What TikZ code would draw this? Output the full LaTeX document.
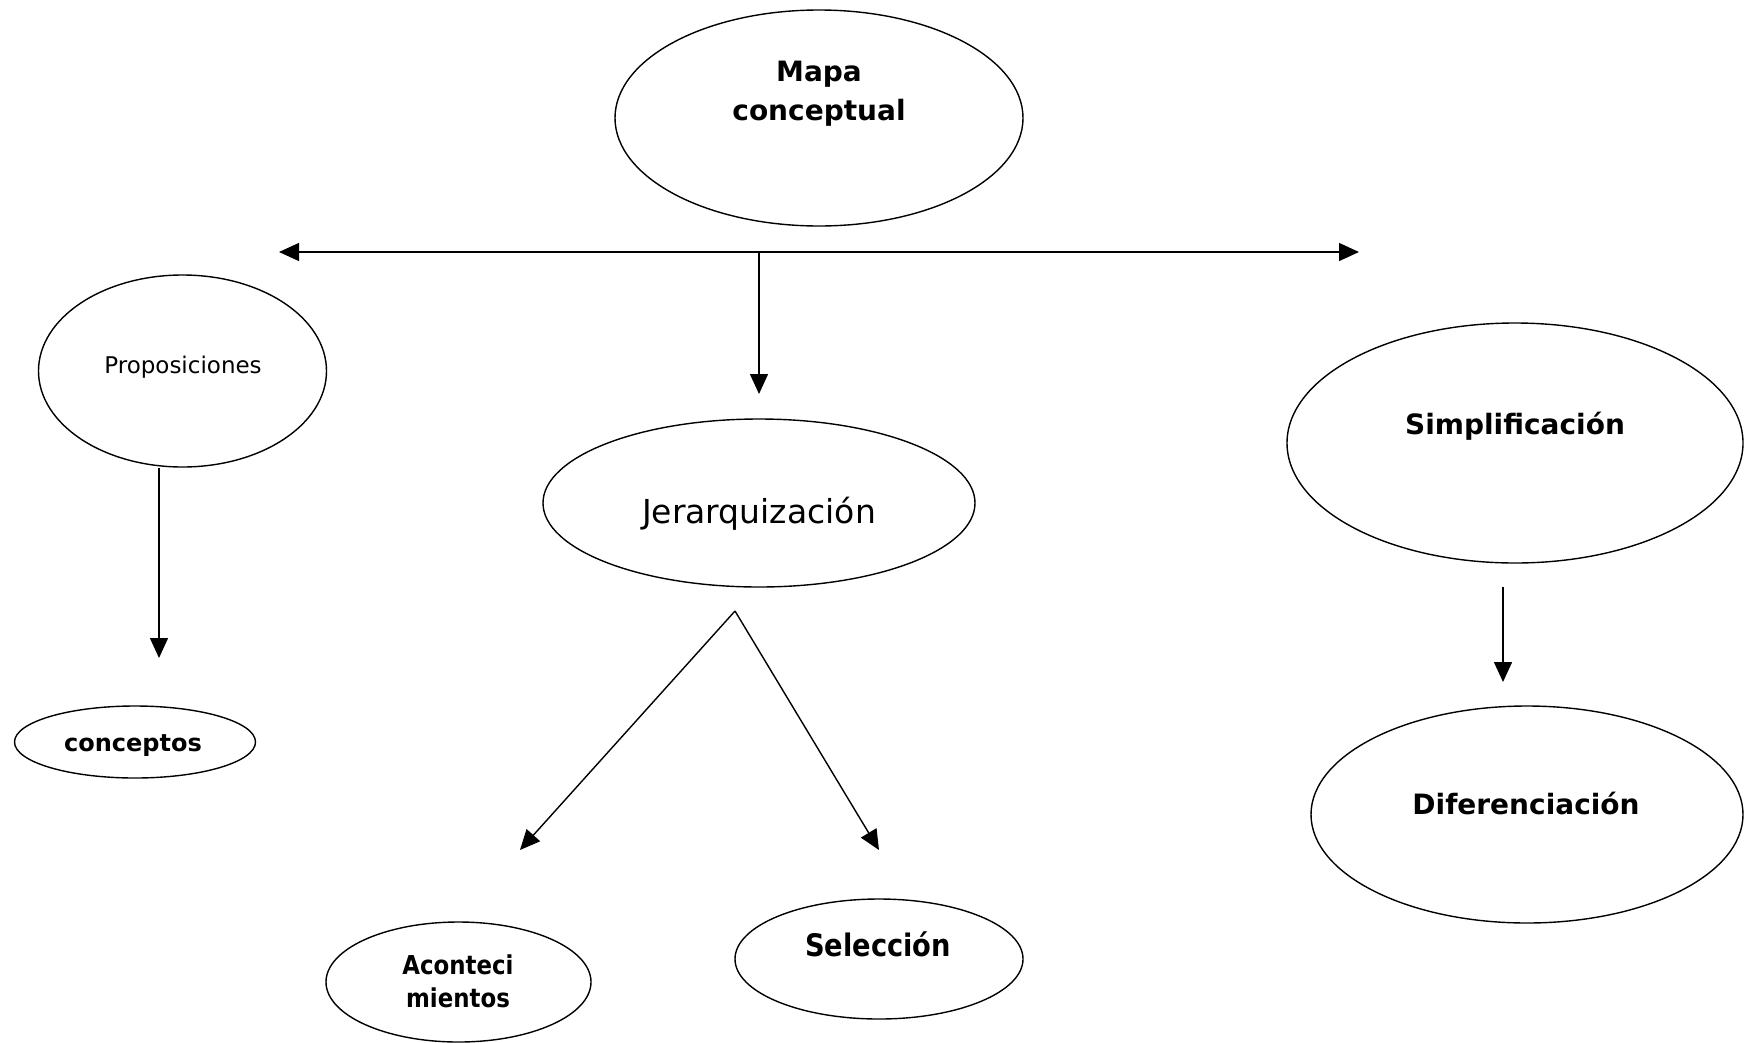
\documentclass[tikz,border=0pt]{standalone}
\usepackage{fontspec}
\setmainfont{DejaVu Sans}
\newfontfamily\condfont{DejaVu Sans}[FakeStretch=0.88]
\usetikzlibrary{shapes.geometric,arrows.meta}
\tikzset{
  oval/.style={draw=black,line width=1.4pt,ellipse,inner sep=0pt},
  lbl/.style={inner sep=0pt,align=center,text=black},
  conn/.style={draw=black,line width=1.4pt,-{Triangle[length=20pt,width=18pt]}},
}
\begin{document}
\begin{tikzpicture}[x=1pt,y=-1pt]
\useasboundingbox (0,0) rectangle (1747,1042);
% ellipses
\node[oval,minimum width=408pt,minimum height=216pt] (mapa) at (819,118) {};
\node[lbl,font=\bfseries\fontsize{28}{39}\selectfont] (mapaT) at (819,94) {Mapa\\conceptual};
\node[oval,minimum width=288pt,minimum height=192pt] (prop) at (182.5,371) {};
\node[lbl,font=\fontsize{23}{28}\selectfont] (propT) at (183,367) {Proposiciones};
\node[oval,minimum width=241pt,minimum height=72pt] (conc) at (135,742) {};
\node[lbl,font=\bfseries\fontsize{24}{28}\selectfont] (concT) at (133,746) {conceptos};
\node[oval,minimum width=432pt,minimum height=168pt] (jer) at (759,503) {};
\node[lbl,font=\fontsize{33}{38}\selectfont] (jerT) at (759,514) {Jerarquización};
\node[oval,minimum width=265pt,minimum height=120pt] (acon) at (458.5,982) {};
\node[lbl,font=\condfont\bfseries\fontsize{26}{33}\selectfont] (aconT) at (458,981) {Aconteci\\mientos};
\node[oval,minimum width=288pt,minimum height=120pt] (sel) at (879,959) {};
\node[lbl,font=\condfont\bfseries\fontsize{31}{36}\selectfont] (selT) at (878,944) {Selección};
\node[oval,minimum width=456pt,minimum height=240pt] (simp) at (1515,443) {};
\node[lbl,font=\bfseries\fontsize{28}{34}\selectfont] (simpT) at (1515,426) {Simplificación};
\node[oval,minimum width=432pt,minimum height=217pt] (dif) at (1527,814.5) {};
\node[lbl,font=\bfseries\fontsize{28}{34}\selectfont] (difT) at (1526,803) {Diferenciación};
% connector points
\coordinate (hl) at (279,252);
\coordinate (hr) at (1359,252);
\coordinate (hm) at (759,252);
\coordinate (vj) at (759,394);
\coordinate (pe) at (159,658);
\coordinate (vx) at (735,611);
\coordinate (al) at (520,850);
\coordinate (ar) at (879,850);
\coordinate (ss) at (1503,587);
\coordinate (se) at (1503,682);
% connectors
\draw[conn,{Triangle[length=20pt,width=18pt]}-{Triangle[length=20pt,width=18pt]}] (hl) -- (hr);
\draw[conn] (hm) -- (vj);
\draw[conn] (prop.south -| pe) -- (pe);
\draw[conn] (vx) -- (al);
\draw[conn] (vx) -- (ar);
\draw[conn] (ss) -- (se);
\end{tikzpicture}
\end{document}
